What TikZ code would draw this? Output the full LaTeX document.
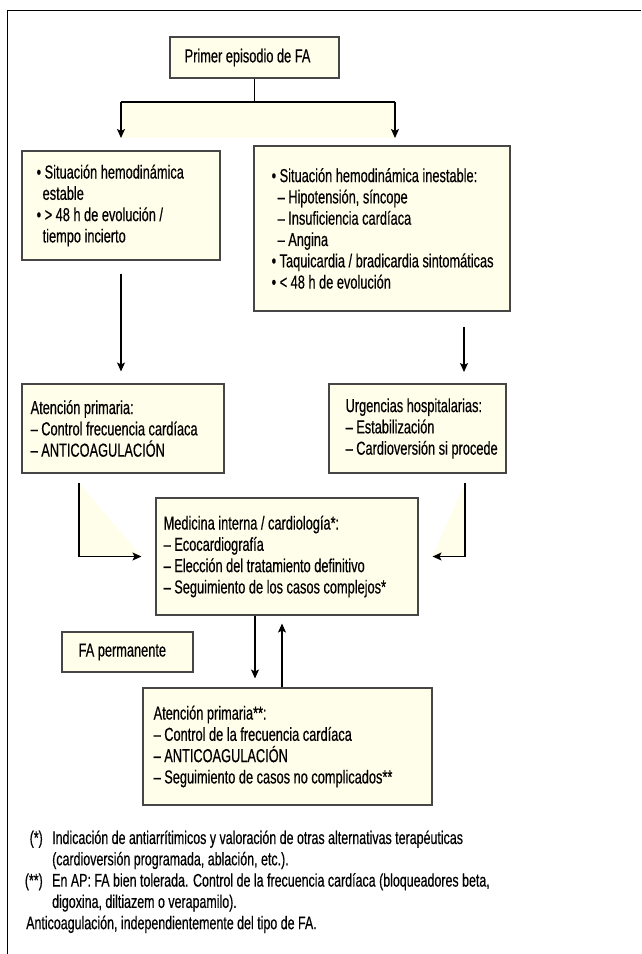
\documentclass[tikz,border=0pt]{standalone}
\usepackage{fontspec}
\setmainfont[FakeStretch=0.68,FakeBold=0.4]{Liberation Sans}
\usetikzlibrary{arrows.meta,calc}
\definecolor{cream}{RGB}{255,254,234}
\definecolor{boxgray}{RGB}{70,70,70}
\tikzset{
  boxnode/.style={draw=boxgray,fill=cream,line width=1.1pt,rectangle,inner sep=0pt},
  txt/.style={anchor=west,inner sep=0pt,align=left,font=\fontsize{18.8}{21.3}\selectfont},
  fn/.style={anchor=base west,inner sep=0pt,font=\fontsize{18.3}{21.3}\selectfont},
  fnl/.style={anchor=base east,inner sep=0pt,font=\fontsize{18.3}{21.3}\selectfont},
  conn/.style={line width=1.2pt,black},
  arr/.style={conn,-{Stealth[length=9pt,width=8pt,inset=2pt]}},
  frameline/.style={line width=1.5pt,black}
}
\begin{document}
\begin{tikzpicture}[x=1pt,y=-1pt]
\useasboundingbox (0,0) rectangle (641,954);
% frame
\draw[frameline] (641,10.5) -- (7.5,10.5) -- (7.5,954);

% boxes
\node[boxnode,minimum width=169pt,minimum height=41pt] (primer) at (254.5,57.5) {};
\node[boxnode,minimum width=198pt,minimum height=109pt] (lbox) at (121,205.5) {};
\node[boxnode,minimum width=256pt,minimum height=165pt] (rbox) at (382,228.5) {};
\node[boxnode,minimum width=202pt,minimum height=89pt] (apbox) at (123,428.5) {};
\node[boxnode,minimum width=177pt,minimum height=89pt] (urbox) at (417.5,428.5) {};
\node[boxnode,minimum width=262pt,minimum height=117pt] (medbox) at (287,556.5) {};
\node[boxnode,minimum width=131pt,minimum height=40pt] (fabox) at (127.5,652) {};
\node[boxnode,minimum width=289pt,minimum height=117pt] (aptwo) at (287.5,746.5) {};

% texts
\node[txt] (tprimer) at ([xshift=15pt]primer.west) {Primer episodio de FA};
\node[txt] (tl) at ([xshift=15pt]lbox.west) {• Situación hemodinámica\\\hspace*{6pt}estable\\• > 48 h de evolución /\\\hspace*{6pt}tiempo incierto};
\node[txt] (tr) at ([xshift=18pt]rbox.west) {• Situación hemodinámica inestable:\\\hspace*{6pt}– Hipotensión, síncope\\\hspace*{6pt}– Insuficiencia cardíaca\\\hspace*{6pt}– Angina\\• Taquicardia / bradicardia sintomáticas\\• < 48 h de evolución};
\node[txt] (tap) at ([xshift=9pt]apbox.west) {Atención primaria:\\– Control frecuencia cardíaca\\– ANTICOAGULACIÓN};
\node[txt] (tur) at ([xshift=17pt]urbox.west) {Urgencias hospitalarias:\\– Estabilización\\– Cardioversión si procede};
\node[txt] (tmed) at ([xshift=8pt]medbox.west) {Medicina interna / cardiología*:\\– Ecocardiografía\\– Elección del tratamiento definitivo\\– Seguimiento de los casos complejos*};
\node[txt] (tfa) at ([xshift=17pt]fabox.west) {FA permanente};
\node[txt] (tap2) at ([xshift=11pt]aptwo.west) {Atención primaria**:\\– Control de la frecuencia cardíaca\\– ANTICOAGULACIÓN\\– Seguimiento de casos no complicados**};

% split from primer
\coordinate (sl) at (121,102);
\coordinate (sr) at (395,102);
\coordinate (tlc) at (121,138);
\coordinate (trc) at (395,138);
\fill[cream] (sl) rectangle (trc);
\draw[conn] (primer.south) -- (primer.south |- sl);
\draw[conn] (sl) -- (sr);
\draw[arr] (sl) -- (tlc);
\draw[arr] (sr) -- (trc);

% second level
\draw[arr,shorten <=13pt,shorten >=12pt] (lbox.south) -- (lbox.south |- apbox.north);
\coordinate (rtop) at (464,327);
\coordinate (rbot) at (464,372);
\draw[arr] (rtop) -- (rbot);

% elbows to medicina
\coordinate (ea) at (79,483);
\coordinate (eb) at (465,483);
\fill[cream] (ea) -- (ea |- medbox.west) -- ([xshift=-14pt]medbox.west) -- cycle;
\fill[cream] (eb) -- (eb |- medbox.east) -- ([xshift=14pt]medbox.east) -- cycle;
\draw[arr,shorten >=14pt] (ea) |- (medbox.west);
\draw[arr,shorten >=14pt] (eb) |- (medbox.east);

% medicina <-> AP**
\coordinate (dx) at (255,0);
\coordinate (ux) at (282,0);
\draw[arr,shorten >=9pt] (medbox.south -| dx) -- (aptwo.north -| dx);
\draw[arr,shorten >=8pt] (aptwo.north -| ux) -- (medbox.south -| ux);

% footnotes
\node[fnl] (f1l) at (43,844) {(*)};
\node[fn] (f1a) at (52,844) {Indicación de antiarrítimicos y valoración de otras alternativas terapéuticas};
\node[fn] (f1b) at (52,865.3) {(cardioversión programada, ablación, etc.).};
\node[fnl] (f2l) at (43,886.6) {(**)};
\node[fn] (f2a) at (52,886.6) {En AP: FA bien tolerada. Control de la frecuencia cardíaca (bloqueadores beta,};
\node[fn] (f2b) at (52,907.9) {digoxina, diltiazem o verapamilo).};
\node[fn] (f3) at (26,929.2) {Anticoagulación, independientemente del tipo de FA.};
\end{tikzpicture}
\end{document}
